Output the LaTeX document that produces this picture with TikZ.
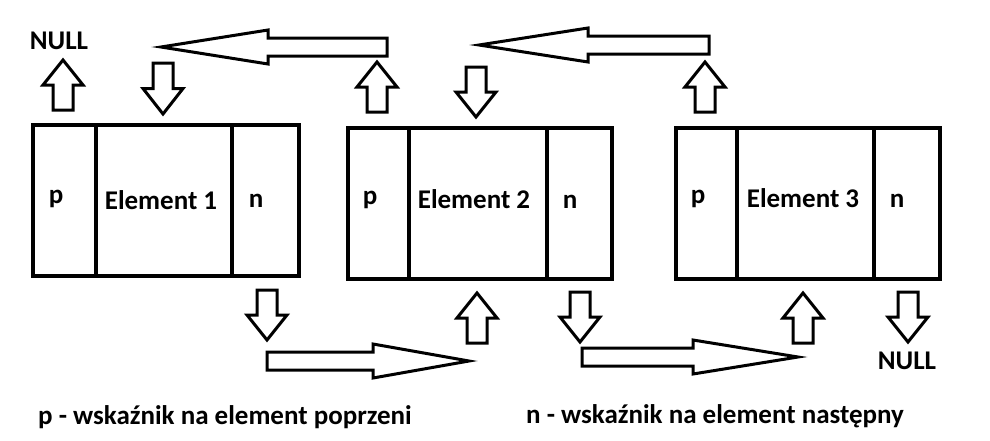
\documentclass[tikz,border=0pt]{standalone}
\usepackage{fontspec}
\setmainfont{Carlito}
\newcommand{\blkv}[3]{% center x, tip y, tail y
  \draw[blk] (#1,#2) -- ({#1+20},{(#2+#3)/2}) -- ({#1+10},{(#2+#3)/2}) -- ({#1+10},#3) -- ({#1-10},#3) -- ({#1-10},{(#2+#3)/2}) -- ({#1-20},{(#2+#3)/2}) -- cycle;}
\newcommand{\blkh}[4]{% tip x, y, head back x, tail x
  \draw[blk] (#1,#2) -- (#3,{#2-17}) -- (#3,{#2-9}) -- (#4,{#2-9}) -- (#4,{#2+9}) -- (#3,{#2+9}) -- (#3,{#2+17}) -- cycle;}
\tikzset{
  cell/.style={draw=black, line width=4pt, inner sep=0pt, minimum height=151pt},
  blk/.style={draw=black, line width=3pt, fill=white, line join=miter},
  lbl/.style={font=\fontsize{27}{31}\selectfont\bfseries, inner sep=0pt, text=black},
}
\begin{document}
\begin{tikzpicture}[x=1pt,y=-1pt]
\fill[white] (0,0) rectangle (990,440);
\useasboundingbox (0,0) rectangle (990,440);
% element 1
\node[cell, minimum width=63pt]  (c1p) at (64.5,200.5) {};
\node[cell, minimum width=136pt] (c1e) at (164,200.5) {};
\node[cell, minimum width=67pt]  (c1n) at (265.5,200.5) {};
% element 2
\node[cell, minimum width=61pt]  (c2p) at (378.5,203) {};
\node[cell, minimum width=138pt] (c2e) at (478,203) {};
\node[cell, minimum width=65pt]  (c2n) at (579.5,203) {};
% element 3
\node[cell, minimum width=61pt]  (c3p) at (706.5,203) {};
\node[cell, minimum width=137pt] (c3e) at (805.5,203) {};
\node[cell, minimum width=66pt]  (c3n) at (907,203) {};
% labels
\node[lbl] (t1p) at ([xshift=-8.5pt,yshift=2pt]c1p.center) {p};
\node[lbl] (t1e) at ([xshift=-3pt]c1e.center) {Element 1};
\node[lbl] (t1n) at ([xshift=-9.5pt]c1n.center) {n};
\node[lbl] (t2p) at ([xshift=-8.5pt,yshift=3pt]c2p.center) {p};
\node[lbl] (t2e) at ([xshift=-4pt,yshift=4pt]c2e.center) {Element 2};
\node[lbl] (t2n) at ([xshift=-9.5pt,yshift=1pt]c2n.center) {n};
\node[lbl] (t3p) at ([xshift=-8.5pt,yshift=4pt]c3p.center) {p};
\node[lbl] (t3e) at ([xshift=-2.5pt,yshift=5pt]c3e.center) {Element 3};
\node[lbl] (t3n) at ([xshift=-10pt,yshift=2pt]c3n.center) {n};
\node[lbl, anchor=base] (null1) at (59,49) {NULL};
\node[lbl, anchor=base] (null2) at (907,369) {NULL};
\node[lbl, anchor=base west] (legp) at (38,424) {p - wskaźnik na element poprzeni};
\node[lbl, anchor=base west] (legn) at (526,423) {n - wskaźnik na element następny};
% vertical block arrows
\blkv{63}{60}{110}
\blkv{163}{114}{63}
\blkv{377}{62}{112}
\blkv{476}{117}{67}
\blkv{705}{62}{112}
\blkv{267}{340}{290}
\blkv{477}{293}{343}
\blkv{580}{342}{292}
\blkv{803}{293}{343}
\blkv{908}{342}{292}
% horizontal block arrows
\blkh{161}{47}{268}{387}
\blkh{479}{45}{588}{709}
\blkh{469}{361}{373}{267}
\blkh{798}{357}{693}{582}
\end{tikzpicture}
\end{document}
